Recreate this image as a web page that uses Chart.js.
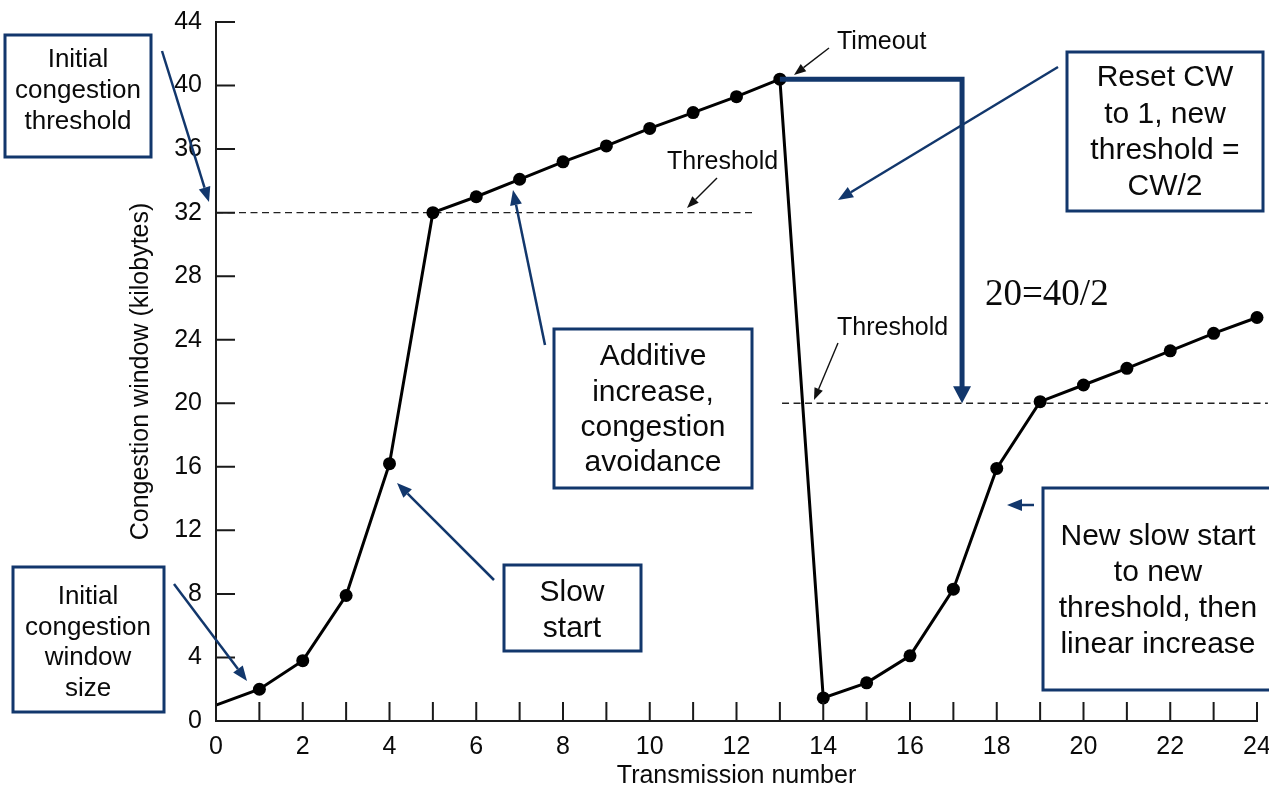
<!DOCTYPE html>
<html>
<head>
<meta charset="utf-8">
<script src="https://cdn.jsdelivr.net/npm/chart.js@4.4.1/dist/chart.umd.min.js"></script>
<style>
  html, body { margin: 0; padding: 0; background: #fff; }
  #wrap { width: 1269px; height: 792px; }
</style>
</head>
<body>
<div id="wrap"><canvas id="cwnd"></canvas></div>
<script>
// TCP congestion window per transmission round
const transmissions = [0, 1, 2, 3, 4, 5, 6, 7, 8, 9, 10, 11, 12, 13, 14, 15, 16, 17, 18, 19, 20, 21, 22, 23, 24];
const windowKB = [1, 2, 3.8, 7.9, 16.2, 32, 33, 34.1, 35.2, 36.2, 37.3, 38.3, 39.3, 40.4,
                  1.45, 2.4, 4.1, 8.3, 15.9, 20.1, 21.15, 22.2, 23.3, 24.4, 25.4];
const yTickValues = [0, 4, 8, 12, 16, 20, 24, 28, 32, 36, 40, 44];
const xTickValues = transmissions;

// thresholds (dashed) : level, start round, end round
const thresholdKB = [32, 20];
const thresholdFrom = [0, 13.05];
const thresholdTo = [12.4, 24.25];

const timeoutRound = 13;   // index of timeout
const halvedAt = 17.2;     // where the "halve" bracket comes down
const newThreshold = 20;

const NAVY = '#12376c';
const INK = '#0a0a0a';
const SANS = '"Liberation Sans", Arial, sans-serif';

const boxes = [
  { x: 5, y: 35, w: 146, h: 122, cx: 78, size: 26, first: 60, step: 31, lines: ['Initial', 'congestion', 'threshold'] },
  { x: 13, y: 567, w: 151, h: 145, cx: 88, size: 26, first: 597, step: 30.5, lines: ['Initial', 'congestion', 'window', 'size'] },
  { x: 504, y: 565, w: 137, h: 86, cx: 572, size: 30, first: 593, step: 36, lines: ['Slow', 'start'] },
  { x: 554, y: 329, w: 198, h: 159, cx: 653, size: 30, first: 357, step: 35.3, lines: ['Additive', 'increase,', 'congestion', 'avoidance'] },
  { x: 1067, y: 52, w: 196, h: 159, cx: 1165, size: 30, first: 78, step: 36.3, lines: ['Reset CW', 'to 1, new', 'threshold =', 'CW/2'] },
  { x: 1043, y: 488, w: 240, h: 202, cx: 1158, size: 30, first: 537, step: 36, lines: ['New slow start', 'to new', 'threshold, then', 'linear increase'] }
];

// [x1, y1, x2(tip), y2(tip)]
const navyArrows = [
  [162, 51, 209, 202],
  [174, 584, 247, 681],
  [494, 580, 397, 483],
  [545, 345, 513, 190],
  [1058, 67, 838, 200],
  [1034, 505, 1007, 505]
];
const blackLabels = [
  { text: 'Timeout', x: 837, y: 42, arrow: [829, 48, 794, 75] },
  { text: 'Threshold', x: 667, y: 162, arrow: [717, 178, 687, 208] },
  { text: 'Threshold', x: 837, y: 328, arrow: [838, 343, 814, 400] }
];

function drawArrow(ctx, x1, y1, x2, y2, color, lw, len, half) {
  const a = Math.atan2(y2 - y1, x2 - x1);
  const bx = x2 - len * Math.cos(a), by = y2 - len * Math.sin(a);
  ctx.save();
  ctx.strokeStyle = color;
  ctx.fillStyle = color;
  ctx.lineWidth = lw;
  ctx.beginPath();
  ctx.moveTo(x1, y1);
  ctx.lineTo(bx, by);
  ctx.stroke();
  ctx.beginPath();
  ctx.moveTo(x2, y2);
  ctx.lineTo(bx + half * Math.sin(a), by - half * Math.cos(a));
  ctx.lineTo(bx - half * Math.sin(a), by + half * Math.cos(a));
  ctx.closePath();
  ctx.fill();
  ctx.restore();
}

// inward tick marks on both axes
const innerTicks = {
  id: 'innerTicks',
  afterDraw(chart) {
    const ctx = chart.ctx;
    const xs = chart.scales.x, ys = chart.scales.y;
    const area = chart.chartArea;
    ctx.save();
    ctx.strokeStyle = '#1a1a1a';
    ctx.lineWidth = 2;
    ctx.beginPath();
    xs.ticks.forEach(t => {
      const px = xs.getPixelForValue(t.value);
      ctx.moveTo(px, area.bottom);
      ctx.lineTo(px, area.bottom - 19);
    });
    ys.ticks.forEach(t => {
      const py = ys.getPixelForValue(t.value);
      ctx.moveTo(area.left, py);
      ctx.lineTo(area.left + 19, py);
    });
    ctx.stroke();
    ctx.restore();
  }
};

const annotations = {
  id: 'annotations',
  afterDraw(chart) {
    const ctx = chart.ctx;
    const xs = chart.scales.x, ys = chart.scales.y;

    // timeout -> halve bracket
    const x0 = xs.getPixelForValue(transmissions[timeoutRound]);
    const yTop = ys.getPixelForValue(windowKB[timeoutRound]);
    const xb = xs.getPixelForValue(halvedAt);
    const yTip = ys.getPixelForValue(newThreshold);
    ctx.save();
    ctx.strokeStyle = NAVY;
    ctx.fillStyle = NAVY;
    ctx.lineWidth = 5;
    ctx.lineJoin = 'miter';
    ctx.beginPath();
    ctx.moveTo(x0, yTop);
    ctx.lineTo(xb, yTop);
    ctx.lineTo(xb, yTip - 15);
    ctx.stroke();
    ctx.beginPath();
    ctx.moveTo(xb, yTip);
    ctx.lineTo(xb - 9, yTip - 17);
    ctx.lineTo(xb + 9, yTip - 17);
    ctx.closePath();
    ctx.fill();
    ctx.restore();

    ctx.save();
    ctx.fillStyle = INK;
    ctx.font = '37px "Liberation Serif", "Times New Roman", serif';
    ctx.textAlign = 'left';
    ctx.textBaseline = 'alphabetic';
    ctx.fillText('20=40/2', 985, 305);
    ctx.restore();

    navyArrows.forEach(a => drawArrow(ctx, a[0], a[1], a[2], a[3], NAVY, 2.5, 15, 6));

    blackLabels.forEach(l => {
      ctx.save();
      ctx.fillStyle = INK;
      ctx.font = '25px ' + SANS;
      ctx.textAlign = 'left';
      ctx.textBaseline = 'middle';
      ctx.fillText(l.text, l.x, l.y);
      ctx.restore();
      drawArrow(ctx, l.arrow[0], l.arrow[1], l.arrow[2], l.arrow[3], '#111', 1.4, 12, 4.5);
    });

    boxes.forEach(b => {
      ctx.save();
      ctx.fillStyle = '#fff';
      ctx.fillRect(b.x, b.y, b.w, b.h);
      ctx.strokeStyle = NAVY;
      ctx.lineWidth = 3;
      ctx.strokeRect(b.x, b.y, b.w, b.h);
      ctx.fillStyle = INK;
      ctx.font = b.size + 'px ' + SANS;
      ctx.textAlign = 'center';
      ctx.textBaseline = 'middle';
      b.lines.forEach((t, i) => ctx.fillText(t, b.cx, b.first + i * b.step));
      ctx.restore();
    });
  }
};

const mainPoints = transmissions.map((x, i) => ({ x: x, y: windowKB[i] }));
const thresholdSets = thresholdKB.map((lvl, i) => ({
  data: [{ x: thresholdFrom[i], y: lvl }, { x: thresholdTo[i], y: lvl }],
  borderColor: '#222',
  borderWidth: 1.3,
  borderDash: [7, 4.5],
  pointRadius: 0,
  clip: false,
  order: 2
}));

new Chart(document.getElementById('cwnd'), {
  type: 'line',
  data: {
    datasets: [{
      data: mainPoints,
      borderColor: '#000',
      borderWidth: 3,
      tension: 0,
      pointRadius: transmissions.map(x => x === 0 ? 0 : 6.5),
      pointBackgroundColor: '#000',
      pointBorderWidth: 0,
      clip: false,
      order: 1
    }].concat(thresholdSets)
  },
  options: {
    responsive: true,
    maintainAspectRatio: false,
    animation: false,
    devicePixelRatio: 1,
    layout: { padding: { left: 126, right: 12, top: 22, bottom: 0 } },
    plugins: { legend: { display: false }, tooltip: { enabled: false } },
    scales: {
      x: {
        type: 'linear',
        min: 0,
        max: 24,
        grid: { display: false, drawTicks: false },
        border: { color: '#1a1a1a', width: 2 },
        afterBuildTicks: s => { s.ticks = xTickValues.map(v => ({ value: v })); },
        afterFit: s => { s.height = 71; s.paddingLeft = 0; s.paddingRight = 0; },
        ticks: {
          autoSkip: false,
          maxRotation: 0,
          padding: 11,
          color: INK,
          font: { family: SANS, size: 25 },
          callback: v => (v % 2 === 0 ? String(v) : '')
        },
        title: {
          display: true,
          text: 'Transmission number',
          color: INK,
          font: { family: SANS, size: 25 },
          padding: { top: 0, bottom: 1 }
        }
      },
      y: {
        min: 0,
        max: 44,
        grid: { display: false, drawTicks: false },
        border: { color: '#1a1a1a', width: 2 },
        afterBuildTicks: s => { s.ticks = yTickValues.map(v => ({ value: v })); },
        afterFit: s => { s.width = 90; s.paddingTop = 0; s.paddingBottom = 0; },
        ticks: {
          padding: 14,
          color: INK,
          font: { family: SANS, size: 25 }
        },
        title: {
          display: true,
          text: 'Congestion window (kilobytes)',
          color: INK,
          font: { family: SANS, size: 25 },
          padding: { top: 0, bottom: 0 }
        }
      }
    }
  },
  plugins: [innerTicks, annotations]
});
</script>
</body>
</html>
